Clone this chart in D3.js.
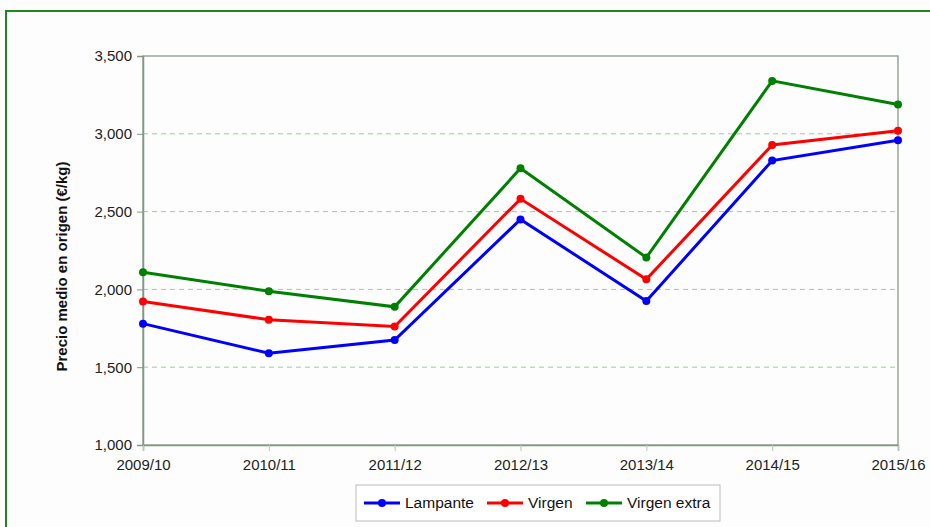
<!DOCTYPE html>
<html lang="es">
<head>
<meta charset="UTF-8">
<title>Precio medio en origen</title>
<script src="https://cdnjs.cloudflare.com/ajax/libs/d3/7.8.5/d3.min.js"></script>
<style>
    body { margin: 0; background: #fdfdfd; font-family: "Liberation Sans", Arial, sans-serif; }
    svg { display: block; }
</style>
</head>
<body>
<div id="chart"></div>
<script>
// campañas
const campaigns = ["2009/10", "2010/11", "2011/12", "2012/13", "2013/14", "2014/15", "2015/16"];
// precios (€/kg, mostrados x1000 como en el original)
const lampante = [1780, 1590, 1675, 2450, 1925, 2828, 2958];
const virgen = [1922, 1805, 1762, 2582, 2065, 2928, 3020];
const virgenExtra = [2110, 1988, 1888, 2778, 2205, 3340, 3188];
const yTicks = [1000, 1500, 2000, 2500, 3000, 3500];

const series = [
    { name: "Lampante", values: lampante, color: "#0000ff" },
    { name: "Virgen", values: virgen, color: "#ff0000" },
    { name: "Virgen extra", values: virgenExtra, color: "#008000" }
];

const W = 930, H = 527;
const margin = { left: 143, right: 32, top: 56, bottom: 82 };
const font = "'Liberation Sans', Arial, sans-serif";

const svg = d3.select("#chart").append("svg")
    .attr("width", W).attr("height", H);

// marco verde exterior
svg.append("rect")
    .attr("x", 6).attr("y", 11)
    .attr("width", 940).attr("height", 540)
    .attr("fill", "none")
    .attr("stroke", "#1a8a1a")
    .attr("stroke-width", 2);

const x = d3.scalePoint().domain(campaigns).range([margin.left, W - margin.right]);
const y = d3.scaleLinear().domain([1000, 3500]).range([H - margin.bottom, margin.top]);

const fmt = d3.format(",");

// rejilla
svg.append("g")
    .selectAll("line")
    .data(yTicks.slice(1, -1))
    .join("line")
    .attr("x1", margin.left).attr("x2", W - margin.right)
    .attr("y1", d => y(d)).attr("y2", d => y(d))
    .attr("stroke", "#9ccf9c")
    .attr("stroke-dasharray", "5,4")
    .attr("stroke-width", 1);

// marco del área de trazado
svg.append("rect")
    .attr("x", margin.left).attr("y", margin.top)
    .attr("width", W - margin.right - margin.left)
    .attr("height", H - margin.bottom - margin.top)
    .attr("fill", "none")
    .attr("stroke", "#8a9a8a")
    .attr("stroke-width", 1.3);

// eje Y
const yAxis = svg.append("g")
    .attr("transform", `translate(${margin.left},0)`)
    .call(d3.axisLeft(y).tickValues(yTicks).tickFormat(fmt).tickSize(6).tickPadding(5))
    .attr("font-size", 15).attr("font-family", font);
yAxis.select(".domain").attr("stroke", "#7f9a80").attr("stroke-width", 1.5);
yAxis.selectAll(".tick line").attr("stroke", "#7f9a80");
yAxis.selectAll(".tick text").attr("fill", "#222");

// eje X
const xAxis = svg.append("g")
    .attr("transform", `translate(0,${H - margin.bottom})`)
    .call(d3.axisBottom(x).tickSize(6).tickPadding(8))
    .attr("font-size", 15).attr("font-family", font);
xAxis.select(".domain").attr("stroke", "#7f9a80").attr("stroke-width", 1.5);
xAxis.selectAll(".tick line").attr("stroke", "#b5c8b5");
xAxis.selectAll(".tick text").attr("fill", "#222");

// título eje Y
svg.append("text")
    .attr("transform", `translate(67,${(margin.top + H - margin.bottom) / 2 + 16}) rotate(-90)`)
    .attr("text-anchor", "middle")
    .attr("font-family", font)
    .attr("font-size", 15)
    .attr("font-weight", "bold")
    .attr("fill", "#111")
    .text("Precio medio en origen (€/kg)");

// líneas
const line = d3.line()
    .x((d, i) => x(campaigns[i]))
    .y(d => y(d));

series.forEach(s => {
    svg.append("path")
        .datum(s.values)
        .attr("d", line)
        .attr("fill", "none")
        .attr("stroke", s.color)
        .attr("stroke-width", 3);
    svg.append("g")
        .selectAll("circle")
        .data(s.values)
        .join("circle")
        .attr("cx", (d, i) => x(campaigns[i]))
        .attr("cy", d => y(d))
        .attr("r", 4)
        .attr("fill", s.color);
});

// leyenda
const legend = svg.append("g").attr("transform", "translate(356,485)");
legend.append("rect")
    .attr("width", 364).attr("height", 36)
    .attr("fill", "#fff")
    .attr("stroke", "#bbb");

const itemX = [8, 131, 230];
series.forEach((s, i) => {
    const g = legend.append("g").attr("transform", `translate(${itemX[i]},18)`);
    g.append("line")
        .attr("x1", 0).attr("x2", 36)
        .attr("stroke", s.color).attr("stroke-width", 3);
    g.append("circle").attr("cx", 18).attr("r", 4).attr("fill", s.color);
    g.append("text")
        .attr("x", 41).attr("dy", "0.35em")
        .attr("font-family", font)
        .attr("font-size", 15.5)
        .attr("fill", "#111")
        .text(s.name);
});
</script>
</body>
</html>
